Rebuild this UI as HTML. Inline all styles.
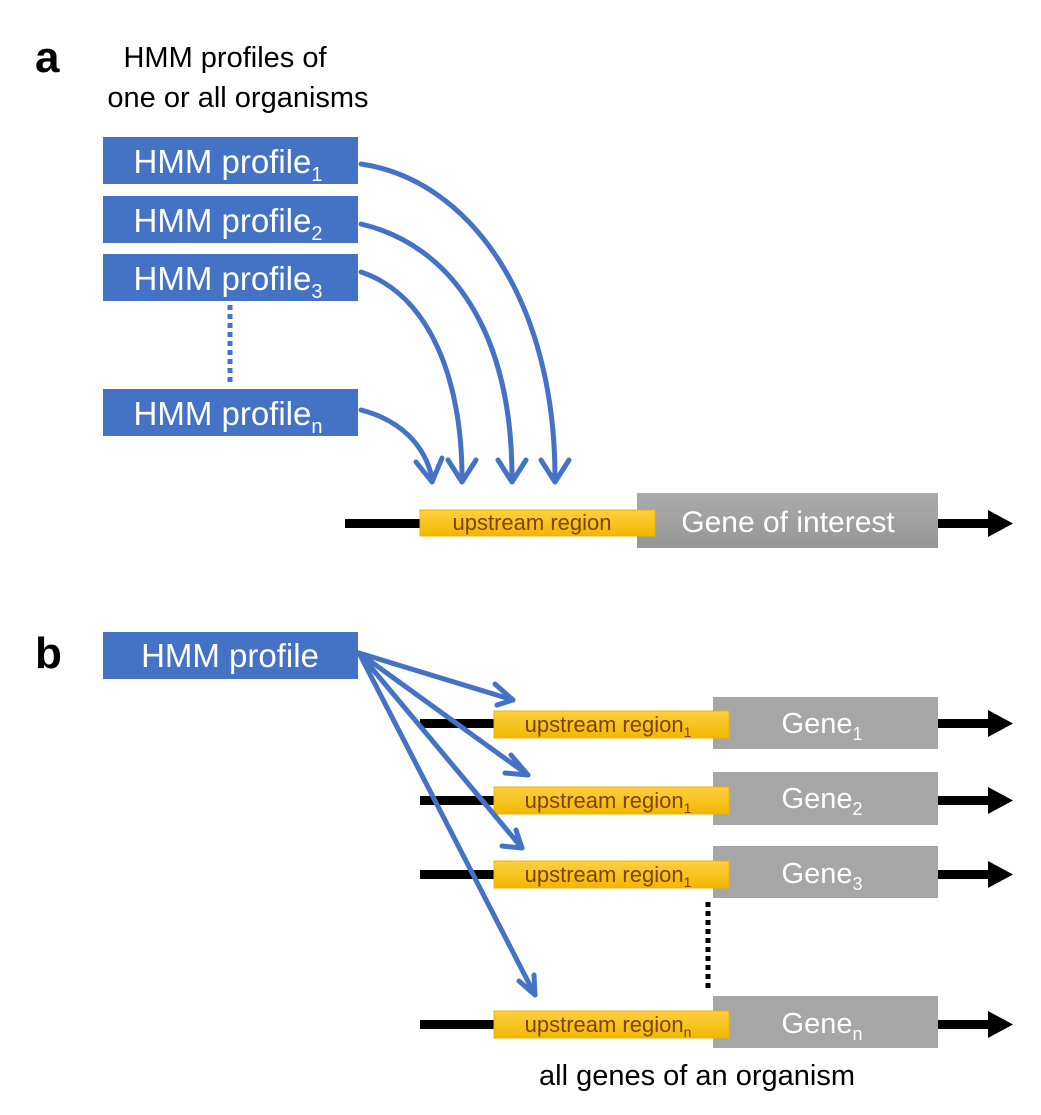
<!DOCTYPE html>
<html><head><meta charset="utf-8"><style>
html,body{margin:0;padding:0;background:#fff}
svg{display:block;font-family:"Liberation Sans",sans-serif}
</style></head><body>
<svg width="1041" height="1115" viewBox="0 0 1041 1115" xmlns="http://www.w3.org/2000/svg">
<defs>
<linearGradient id="yg" x1="0" y1="0" x2="0" y2="1"><stop offset="0" stop-color="#ffd040"/><stop offset="1" stop-color="#f0b800"/></linearGradient>
<linearGradient id="gg" x1="0" y1="0" x2="0" y2="1"><stop offset="0" stop-color="#ababab"/><stop offset="1" stop-color="#969696"/></linearGradient>
</defs>
<text x="35" y="72" font-size="44" font-weight="bold">a</text>
<text x="225" y="67" font-size="29" text-anchor="middle">HMM profiles of</text>
<text x="238" y="107" font-size="29" text-anchor="middle">one or all organisms</text>
<g fill="#4472c4">
<rect x="103" y="137" width="255" height="47"/>
<rect x="103" y="196" width="255" height="47"/>
<rect x="103" y="254" width="255" height="47"/>
<rect x="103" y="389" width="255" height="47"/>
<rect x="103" y="632" width="255" height="47"/>
</g>
<g fill="#fff" font-size="33" text-anchor="middle">
<text x="228" y="173">HMM profile<tspan font-size="20" dy="8">1</tspan></text>
<text x="228" y="232">HMM profile<tspan font-size="20" dy="8">2</tspan></text>
<text x="228" y="290">HMM profile<tspan font-size="20" dy="8">3</tspan></text>
<text x="228" y="425">HMM profile<tspan font-size="20" dy="8">n</tspan></text>
<text x="230" y="667">HMM profile</text>
</g>
<line x1="230" y1="305" x2="230" y2="383" stroke="#4472c4" stroke-width="5" stroke-dasharray="5,4"/>
<g fill="none" stroke="#4472c4" stroke-width="5" stroke-linecap="round" stroke-linejoin="round">
<path d="M361 164 C470 180 555 300 555 478"/>
<path d="M361 224 C450 245 512 330 512 478"/>
<path d="M361 272 C430 295 462 380 462 478"/>
<path d="M361 410 C400 420 425 445 432 478"/>
<path d="M541 460 L555 482 L569 460"/>
<path d="M498 460 L512 482 L526 460"/>
<path d="M448 460 L462 482 L476 460"/>
<path d="M416 462 L432 482 L442 458"/>
</g>
<rect x="345" y="519" width="80" height="9" fill="#000"/>
<rect x="637" y="493" width="301" height="55" fill="url(#gg)"/>
<rect x="420" y="510" width="235" height="26" fill="url(#yg)" stroke="#f0b000"/>
<text x="532" y="530" font-size="22" fill="#7f4000" text-anchor="middle">upstream region</text>
<text x="788" y="532" font-size="30" fill="#fff" text-anchor="middle">Gene of interest</text>
<rect x="938" y="519" width="52" height="9" fill="#000"/>
<polygon points="988,510 1013,523.5 988,537" fill="#000"/>
<text x="35" y="668" font-size="44" font-weight="bold">b</text>
<g>
<rect x="420" y="719" width="80" height="9" fill="#000"/>
<rect x="713" y="697" width="225" height="52" fill="#a6a6a6"/>
<rect x="494" y="711" width="235" height="27" fill="url(#yg)" stroke="#f0b000"/>
<text x="608" y="732" font-size="22" fill="#7f4000" text-anchor="middle">upstream region<tspan font-size="14" dy="5">1</tspan></text>
<text x="822" y="733" font-size="29" fill="#fff" text-anchor="middle">Gene<tspan font-size="18" dy="7">1</tspan></text>
<rect x="938" y="719" width="52" height="9" fill="#000"/><polygon points="988,710 1013,723.5 988,737" fill="#000"/>

<rect x="420" y="796" width="80" height="9" fill="#000"/>
<rect x="713" y="772" width="225" height="53" fill="#a6a6a6"/>
<rect x="494" y="787" width="235" height="27" fill="url(#yg)" stroke="#f0b000"/>
<text x="608" y="808" font-size="22" fill="#7f4000" text-anchor="middle">upstream region<tspan font-size="14" dy="5">1</tspan></text>
<text x="822" y="808" font-size="29" fill="#fff" text-anchor="middle">Gene<tspan font-size="18" dy="7">2</tspan></text>
<rect x="938" y="796" width="52" height="9" fill="#000"/><polygon points="988,787 1013,800.5 988,814" fill="#000"/>

<rect x="420" y="870" width="80" height="9" fill="#000"/>
<rect x="713" y="846" width="225" height="52" fill="#a6a6a6"/>
<rect x="494" y="861" width="235" height="27" fill="url(#yg)" stroke="#f0b000"/>
<text x="608" y="882" font-size="22" fill="#7f4000" text-anchor="middle">upstream region<tspan font-size="14" dy="5">1</tspan></text>
<text x="822" y="883" font-size="29" fill="#fff" text-anchor="middle">Gene<tspan font-size="18" dy="7">3</tspan></text>
<rect x="938" y="870" width="52" height="9" fill="#000"/><polygon points="988,861 1013,874.5 988,888" fill="#000"/>

<rect x="420" y="1020" width="80" height="9" fill="#000"/>
<rect x="713" y="996" width="225" height="52" fill="#a6a6a6"/>
<rect x="494" y="1011" width="235" height="27" fill="url(#yg)" stroke="#f0b000"/>
<text x="608" y="1032" font-size="22" fill="#7f4000" text-anchor="middle">upstream region<tspan font-size="14" dy="5">n</tspan></text>
<text x="822" y="1033" font-size="29" fill="#fff" text-anchor="middle">Gene<tspan font-size="18" dy="7">n</tspan></text>
<rect x="938" y="1020" width="52" height="9" fill="#000"/><polygon points="988,1011 1013,1024.5 988,1038" fill="#000"/>
</g>
<line x1="708" y1="902" x2="708" y2="992" stroke="#000" stroke-width="5" stroke-dasharray="5,4"/>
<g fill="none" stroke="#4472c4" stroke-width="5" stroke-linecap="round" stroke-linejoin="round">
<path d="M359 653 L513 700"/>
<path d="M359 653 L528 775"/>
<path d="M359 653 L522 848"/>
<path d="M359 653 L535 995"/>
<path d="M495 684 L513 700 L497 705"/>
<path d="M511 755 L528 775 L505 773"/>
<path d="M516 830 L522 848 L502 846"/>
<path d="M534 975 L535 995 L519 981"/>
</g>
<text x="697" y="1085" font-size="29" text-anchor="middle">all genes of an organism</text>
</svg>
</body></html>
